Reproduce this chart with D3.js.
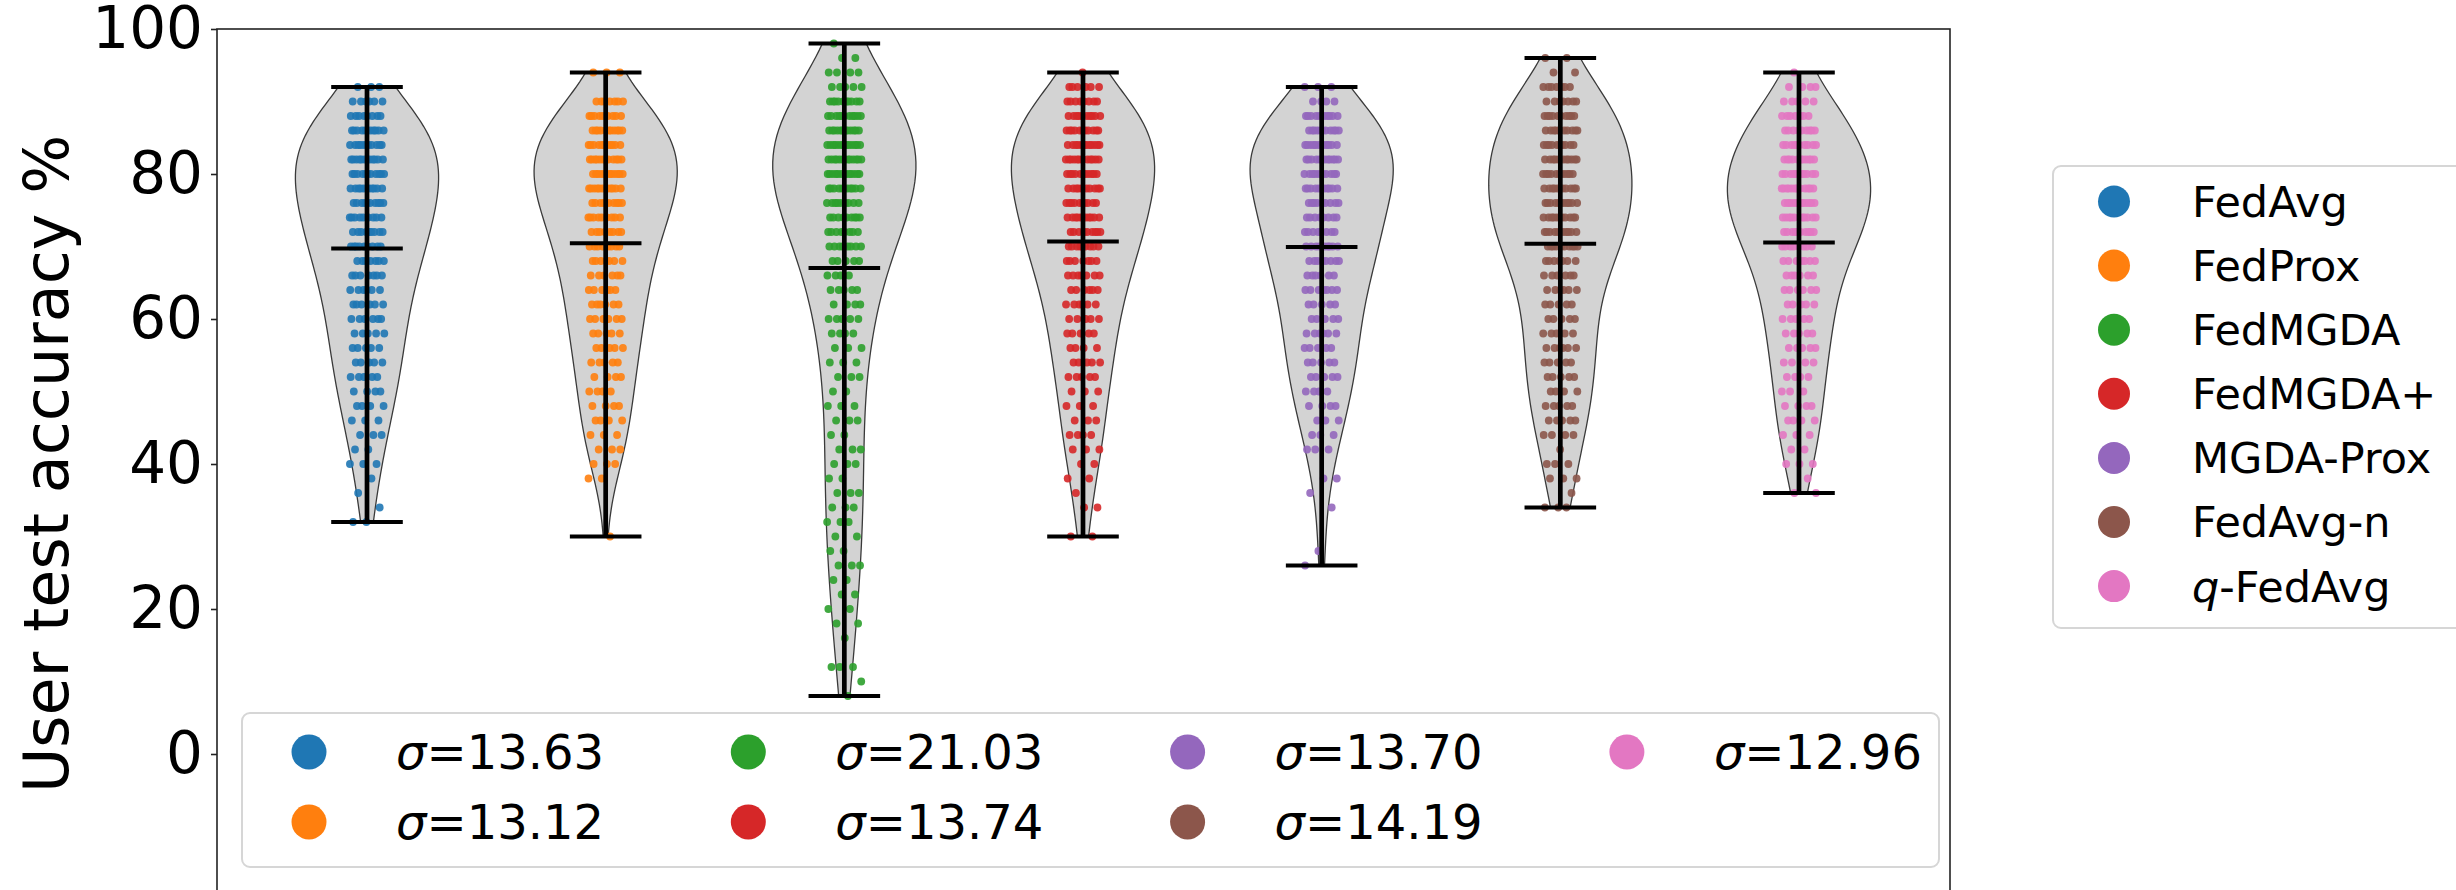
<!DOCTYPE html>
<html>
<head>
<meta charset="utf-8">
<script src="https://cdn.jsdelivr.net/npm/d3@7"></script>
<style>
  body { margin: 0; background: #fff; }
  svg { display: block; font-family: 'DejaVu Sans', sans-serif; }
</style>
</head>
<body>
<div id="vis"></div>
<script>
// accuracy levels (%) that a user can reach, top to bottom
const accLevels = [98, 96, 94, 92, 90, 88, 86, 84, 82, 80, 78, 76, 74, 72, 70, 68, 66, 64, 62, 60, 58, 56, 54,
  52, 50, 48, 46, 44, 42, 40, 38, 36, 34, 32, 30, 28, 26, 24, 22, 20, 18, 16, 14, 12, 10, 8];

const methods = ['FedAvg', 'FedProx', 'FedMGDA', 'FedMGDA+', 'MGDA-Prox', 'FedAvg-n', 'q-FedAvg'];
const sigmaLabels = ['13.63', '13.12', '21.03', '13.74', '13.70', '14.19', '12.96'];

// number of users at each accuracy level
const fedAvgCounts   = [0,0,0,3,6,8,10,11,11,11,10,10,9,9,9,7,7,6,6,6,5,5,5,5,4,4,3,3,2,3,1,1,1,2,0,0,0,0,0,0,0,0,0,0,0,0];
const fedProxCounts  = [0,0,3,0,7,9,11,11,12,12,11,10,9,8,8,7,6,6,6,6,5,5,5,4,4,4,4,3,3,3,2,0,0,0,1,0,0,0,0,0,0,0,0,0,0,0];
const fedMgdaCounts  = [1,2,4,5,10,11,12,13,13,12,11,9,9,8,8,5,4,5,4,5,4,3,3,3,2,3,3,2,3,3,2,3,3,3,2,2,3,2,2,2,2,1,0,3,1,1];
const fedMgdaPCounts = [0,0,1,6,8,10,11,12,12,11,10,10,10,9,9,7,7,6,6,5,5,4,5,5,3,3,3,4,3,2,2,1,2,0,2,0,0,0,0,0,0,0,0,0,0,0];
const mgdaProxCounts = [0,0,0,3,4,10,11,11,12,11,10,9,8,8,9,8,6,7,5,5,6,5,5,5,4,4,3,3,3,0,2,1,1,0,0,1,1,0,0,0,0,0,0,0,0,0];
const fedAvgNCounts  = [0,2,2,7,7,10,10,10,11,11,10,11,11,10,10,7,6,6,5,5,5,6,5,5,4,5,5,4,1,3,3,1,3,0,0,0,0,0,0,0,0,0,0,0,0,0];
const qFedAvgCounts  = [0,0,1,4,5,7,9,10,11,11,12,12,11,10,8,7,6,6,5,5,5,5,4,4,3,4,4,3,2,3,1,2,0,0,0,0,0,0,0,0,0,0,0,0,0,0];

const yTicks = [0, 20, 40, 60, 80, 100];
const colors = ['#1f77b4', '#ff7f0e', '#2ca02c', '#d62728', '#9467bd', '#8c564b', '#e377c2'];

const allCounts = [fedAvgCounts, fedProxCounts, fedMgdaCounts, fedMgdaPCounts, mgdaProxCounts, fedAvgNCounts, qFedAvgCounts];

// expand counts into one value per user
const series = allCounts.map(counts => {
  const vals = [];
  counts.forEach((c, k) => { for (let j = 0; j < c; j++) vals.push(accLevels[k]); });
  return vals;
});

const W = 2456, H = 890;
const plot = { left: 217, right: 1950, top: 29, bottom: 899 };

const svg = d3.select('#vis').append('svg')
  .attr('width', W)
  .attr('height', H);

const x = d3.scaleLinear().domain([0.3715, 7.6327]).range([plot.left, plot.right]);
const y = d3.scaleLinear().domain([-20, 100]).range([plot.bottom, plot.top]);

const halfW = 0.3;   // violin half width
const capW = 0.15;   // extrema cap half length
const jitter = 0.073;

// gaussian kde, scott bandwidth, evaluated between min and max (like matplotlib)
function kde(vals) {
  const n = vals.length;
  const bw = d3.deviation(vals) * Math.pow(n, -0.2);
  const [lo, hi] = d3.extent(vals);
  return d3.range(100).map(i => {
    const p = lo + (hi - lo) * i / 99;
    return [p, d3.sum(vals, v => Math.exp(-0.5 * ((p - v) / bw) ** 2))];
  });
}

const plotArea = svg.append('g');

// violins
series.forEach((vals, i) => {
  const pos = i + 1;
  const dens = kde(vals);
  const mx = d3.max(dens, d => d[1]);
  const area = d3.area()
    .y(d => y(d[0]))
    .x0(d => x(pos - halfW * d[1] / mx))
    .x1(d => x(pos + halfW * d[1] / mx));
  plotArea.append('path')
    .datum(dens)
    .attr('d', area)
    .attr('fill', '#d3d3d3')
    .attr('stroke', '#3a3a3a')
    .attr('stroke-width', 1.3);
});

// strip points
series.forEach((vals, i) => {
  const pos = i + 1;
  plotArea.append('g')
    .selectAll('circle')
    .data(vals)
    .enter()
    .append('circle')
    .attr('cx', (d, j) => {
      const u = ((j + 1) * 0.6180339887 + i * 0.29) % 1;
      return x(pos + (2 * u - 1) * jitter);
    })
    .attr('cy', d => y(d))
    .attr('r', 3.9)
    .attr('fill', colors[i])
    .attr('fill-opacity', 0.9);
});

// extrema bars and means
series.forEach((vals, i) => {
  const pos = i + 1;
  const [lo, hi] = d3.extent(vals);
  const mean = d3.mean(vals);
  const g = plotArea.append('g').attr('stroke', '#000');
  g.append('line')
    .attr('x1', x(pos)).attr('x2', x(pos))
    .attr('y1', y(lo)).attr('y2', y(hi))
    .attr('stroke-width', 4.7);
  [lo, hi, mean].forEach(v => {
    g.append('line')
      .attr('x1', x(pos - capW)).attr('x2', x(pos + capW))
      .attr('y1', y(v)).attr('y2', y(v))
      .attr('stroke-width', 4);
  });
});

// frame
svg.append('rect')
  .attr('x', plot.left).attr('y', plot.top)
  .attr('width', plot.right - plot.left).attr('height', plot.bottom - plot.top)
  .attr('fill', 'none')
  .attr('stroke', '#222')
  .attr('stroke-width', 1.6);

// y axis
const yAxis = svg.append('g')
  .attr('transform', 'translate(' + plot.left + ',0)')
  .call(d3.axisLeft(y).tickValues(yTicks).tickSize(6).tickPadding(8));
yAxis.select('.domain').remove();
yAxis.selectAll('line').attr('stroke', '#222').attr('stroke-width', 1.6);
yAxis.selectAll('text')
  .attr('fill', '#000')
  .style('font-family', 'DejaVu Sans')
  .style('font-size', '58px');

svg.append('text')
  .attr('transform', 'translate(68,' + (plot.top + plot.bottom) / 2 + ')rotate(-90)')
  .attr('text-anchor', 'middle')
  .style('font-size', '62px')
  .text('User test accuracy %');

// sigma legend inside the axes
const leg1 = svg.append('g');
leg1.append('rect')
  .attr('x', 242).attr('y', 713)
  .attr('width', 1697).attr('height', 154)
  .attr('rx', 8)
  .attr('fill', '#fff').attr('fill-opacity', 0.8)
  .attr('stroke', '#d6d6d6').attr('stroke-width', 2);
sigmaLabels.forEach((s, i) => {
  const col = Math.floor(i / 2), row = i % 2;
  const mx = 309 + col * 439.3, my = 752 + row * 70;
  leg1.append('circle').attr('cx', mx).attr('cy', my).attr('r', 17.5).attr('fill', colors[i]);
  const t = leg1.append('text')
    .attr('x', mx + 87).attr('y', my + 0.36 * 48)
    .style('font-size', '48px');
  t.append('tspan').style('font-style', 'italic').text('σ');
  t.append('tspan').text('=' + s);
});

// method legend outside the axes
const leg2 = svg.append('g');
leg2.append('rect')
  .attr('x', 2053).attr('y', 166)
  .attr('width', 450).attr('height', 462)
  .attr('rx', 8)
  .attr('fill', '#fff')
  .attr('stroke', '#d6d6d6').attr('stroke-width', 2);
methods.forEach((m, i) => {
  const my = 201.5 + i * 64.1;
  leg2.append('circle').attr('cx', 2114).attr('cy', my).attr('r', 16).attr('fill', colors[i]);
  const t = leg2.append('text')
    .attr('x', 2192).attr('y', my + 0.36 * 43)
    .style('font-size', '43px');
  if (m.startsWith('q-')) {
    t.append('tspan').style('font-style', 'italic').text('q');
    t.append('tspan').text(m.slice(1));
  } else {
    t.text(m);
  }
});
</script>
</body>
</html>
